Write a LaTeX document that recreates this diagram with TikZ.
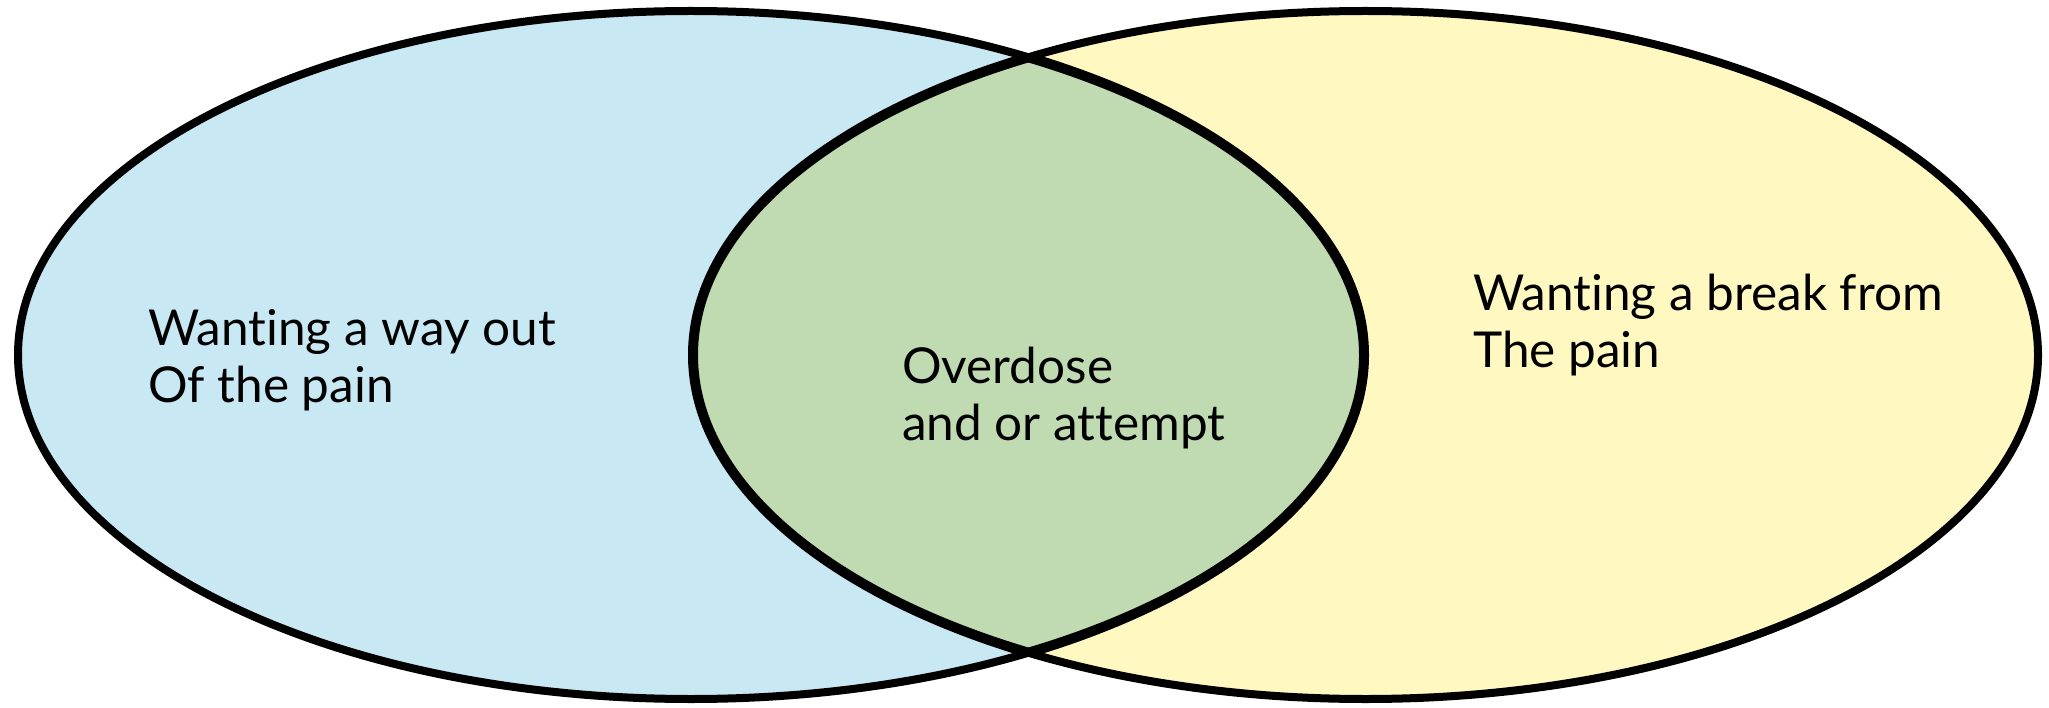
\documentclass[tikz,border=0pt]{standalone}
\usepackage{fontspec}
\setmainfont{Lato}[Ligatures={NoCommon}]
\definecolor{venblue}{RGB}{200,233,243}
\definecolor{venyellow}{RGB}{255,249,193}
\definecolor{vengreen}{RGB}{192,218,178}
\begin{document}
\begin{tikzpicture}[x=1pt,y=-1pt,
  outline/.style={line width=8pt,black},
  inner/.style={line width=10pt,black},
  label/.style={anchor=base west,align=left,inner sep=0pt,
    font=\fontsize{49.5}{57}\selectfont}]
\useasboundingbox (0,0) rectangle (2049,708);
% fills
\fill[venblue] (691,355) ellipse [x radius=673, y radius=344];
\fill[venyellow] (1365.5,355) ellipse [x radius=672.5, y radius=344];
\begin{scope}
  \clip (691,355) ellipse [x radius=673, y radius=344];
  \fill[vengreen] (1365.5,355) ellipse [x radius=672.5, y radius=344];
\end{scope}
% outlines
\draw[outline] (691,355) ellipse [x radius=673, y radius=344];
\draw[outline] (1365.5,355) ellipse [x radius=672.5, y radius=344];
\begin{scope}
  \clip (691,355) ellipse [x radius=673, y radius=344];
  \draw[inner] (1365.5,355) ellipse [x radius=672.5, y radius=344];
\end{scope}
\begin{scope}
  \clip (1365.5,355) ellipse [x radius=672.5, y radius=344];
  \draw[inner] (691,355) ellipse [x radius=673, y radius=344];
\end{scope}
% labels (anchor is the baseline of the last line)
\node[label] (left) at (148,402) {Wanting a way out\\Of the pain};
\node[label] (mid) at (902,440) {Overdose\\and or attempt};
\node[label] (right) at (1473,367) {Wanting a break from\\The pain};
\end{tikzpicture}
\end{document}
